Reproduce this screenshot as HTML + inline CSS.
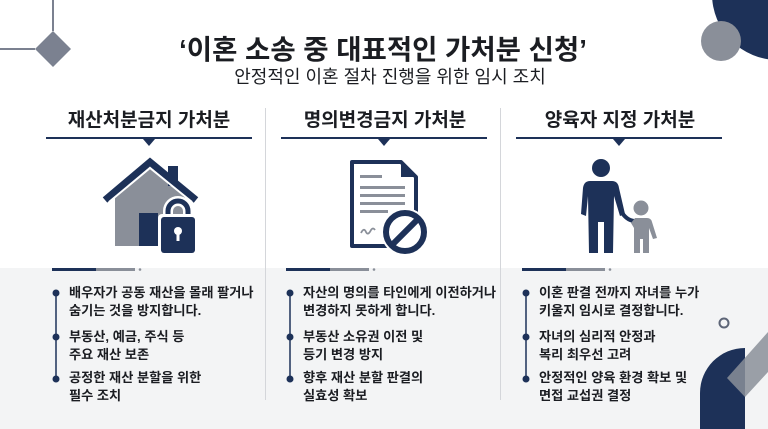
<!DOCTYPE html>
<html><head><meta charset="utf-8"><style>
*{margin:0;padding:0;box-sizing:border-box}
body{width:768px;height:429px;overflow:hidden;background:#fff;font-family:"Liberation Sans","Noto Sans CJK KR",sans-serif;position:relative;color:#1b1d22}
.abs{position:absolute}
.bot{left:0;top:268px;width:768px;height:161px;background:#f3f4f5}
.t{position:absolute;white-space:nowrap}
.h{font-size:19px;font-weight:bold;text-align:center;width:230px;top:105px}
.ul{position:absolute;top:137px;height:2px;background:#1d3158}
.tri{position:absolute;top:139px;width:0;height:0;border-left:6px solid transparent;border-right:6px solid transparent;border-top:7px solid #1d3158}
.div{position:absolute;top:108px;width:1px;height:292px;background:#d4d6da}
.li{position:absolute;font-size:13.2px;font-weight:bold;line-height:18px;white-space:nowrap}
</style></head><body>
<div class="abs bot"></div>
<svg class="abs" style="left:0;top:0" width="768" height="429">
 <line x1="53" y1="0" x2="53" y2="31" stroke="#7b8190" stroke-width="2"/>
 <line x1="0" y1="49" x2="35" y2="49" stroke="#7b8190" stroke-width="2"/>
 <polygon points="53,31 71,49 53,67 35,49" fill="#7b8190"/>
 <circle cx="778" cy="-6" r="66" fill="#1d3158"/>
 <circle cx="721" cy="41" r="20" fill="#8a8f99"/>
 <circle cx="724" cy="323" r="4.5" fill="none" stroke="#5d6577" stroke-width="2"/>
 <path d="M700,429 L700,393 A45,45 0 0 1 745,348 L745,429 Z" fill="#1d3158"/>
 <polygon points="727,378 768,332 768,372 745,397" fill="#8a8f99" opacity="0.85"/>
 <polygon points="115,195 150,167 185,195 185,246 115,246" fill="#8a8f99"/>
 <rect x="139" y="213" width="19" height="33" fill="#1d3158"/>
 <rect x="168" y="166" width="10" height="20" fill="#1d3158"/>
 <polyline points="105,200 150,162 196,200" fill="none" stroke="#1d3158" stroke-width="7"/>
 <polyline points="109,202 150,168 192,202" fill="none" stroke="#fff" stroke-width="2"/>
 <path d="M168,218 v-7 a10,10 0 0 1 20,0 v7" fill="none" stroke="#fff" stroke-width="10"/>
 <path d="M168,218 v-7 a10,10 0 0 1 20,0 v7" fill="none" stroke="#1d3158" stroke-width="5"/>
 <rect x="158" y="214" width="40" height="42" rx="4" fill="#fff"/>
 <rect x="161" y="217" width="34" height="36" rx="3" fill="#1d3158"/>
 <circle cx="178" cy="231" r="4" fill="#fff"/><rect x="176.5" y="231" width="3" height="10" fill="#fff"/>
 <path d="M352,162 H401 L416,177 V246 H352 Z" fill="#fff" stroke="#1d3158" stroke-width="4" stroke-linejoin="round"/>
 <path d="M401,162 V177 H416 Z" fill="#1d3158"/>
 <rect x="360" y="175" width="22" height="3" fill="#8a8f99"/>
 <rect x="360" y="186" width="45" height="3" fill="#8a8f99"/>
 <rect x="360" y="194" width="45" height="3" fill="#8a8f99"/>
 <rect x="360" y="202" width="45" height="3" fill="#8a8f99"/>
 <rect x="360" y="210" width="28" height="3" fill="#8a8f99"/>
 <path d="M361,233 q3,-6 5,-1 q2,4 5,-2 q2,-3 4,0" fill="none" stroke="#8a8f99" stroke-width="1.8"/>
 <circle cx="405" cy="232" r="24" fill="#fff"/>
 <circle cx="405" cy="232" r="19" fill="none" stroke="#1d3158" stroke-width="6"/>
 <line x1="392" y1="245" x2="418" y2="219" stroke="#1d3158" stroke-width="6"/>
 <circle cx="601" cy="168" r="9" fill="#1d3158"/>
 <path d="M590,181 H612 Q618,181 619,188 L625,214 L620,216 L614,196 L613,253 H604 V222 H598 V253 H589 L588,196 L586,216 L581,214 L583,188 Q584,181 590,181 Z" fill="#1d3158"/>
 <path d="M621,211 Q626,220 634,221" fill="none" stroke="#1d3158" stroke-width="4" stroke-linecap="round"/>
 <circle cx="641" cy="208" r="7.5" fill="#8a8f99"/>
 <path d="M635,218 H647 Q651,218 652,222 L657,238 L653,239 L649,228 L649,253 H643 V239 H640 V253 H634 L634,228 L631,223 Z" fill="#8a8f99"/>
 <g id="pb">
 <rect x="52" y="268" width="44" height="3" fill="#1d3158"/><rect x="96" y="268" width="39" height="3" fill="#8a8f99"/><circle cx="140" cy="269.5" r="1.3" fill="#8a8f99"/>
 </g>
 <use href="#pb" x="234"/><use href="#pb" x="470"/>
 <g id="bl">
 <line x1="56" y1="293" x2="56" y2="379" stroke="#1d3158" stroke-width="1.5"/>
 <circle cx="56" cy="293" r="3.5" fill="#1d3158"/><circle cx="56" cy="337" r="3.5" fill="#1d3158"/><circle cx="56" cy="379" r="3.5" fill="#1d3158"/>
 </g>
 <use href="#bl" x="234"/><use href="#bl" x="470"/>
</svg>
<div class="t" style="left:0;width:766px;text-align:center;top:27px;font-size:27.5px;font-weight:bold">‘이혼 소송 중 대표적인 가처분 신청’</div>
<div class="t" style="left:0;width:780px;text-align:center;top:63px;font-size:18px">안정적인 이혼 절차 진행을 위한 임시 조치</div>
<div class="div" style="left:265px"></div><div class="div" style="left:500px"></div>
<div class="t h" style="left:34px">재산처분금지 가처분</div>
<div class="t h" style="left:270px">명의변경금지 가처분</div>
<div class="t h" style="left:505px">양육자 지정 가처분</div>
<div class="ul" style="left:46px;width:206px"></div><div class="tri" style="left:143px"></div>
<div class="ul" style="left:281px;width:206px"></div><div class="tri" style="left:378px"></div>
<div class="ul" style="left:516px;width:206px"></div><div class="tri" style="left:613px"></div>
<div class="li" style="left:69px;top:284px">배우자가 공동 재산을 몰래 팔거나<br>숨기는 것을 방지합니다.</div>
<div class="li" style="left:69px;top:328px">부동산, 예금, 주식 등<br>주요 재산 보존</div>
<div class="li" style="left:69px;top:369px">공정한 재산 분할을 위한<br>필수 조치</div>
<div class="li" style="left:303px;top:284px">자산의 명의를 타인에게 이전하거나<br>변경하지 못하게 합니다.</div>
<div class="li" style="left:303px;top:328px">부동산 소유권 이전 및<br>등기 변경 방지</div>
<div class="li" style="left:303px;top:369px">향후 재산 분할 판결의<br>실효성 확보</div>
<div class="li" style="left:539px;top:284px">이혼 판결 전까지 자녀를 누가<br>키울지 임시로 결정합니다.</div>
<div class="li" style="left:539px;top:328px">자녀의 심리적 안정과<br>복리 최우선 고려</div>
<div class="li" style="left:539px;top:369px">안정적인 양육 환경 확보 및<br>면접 교섭권 결정</div>
</body></html>
